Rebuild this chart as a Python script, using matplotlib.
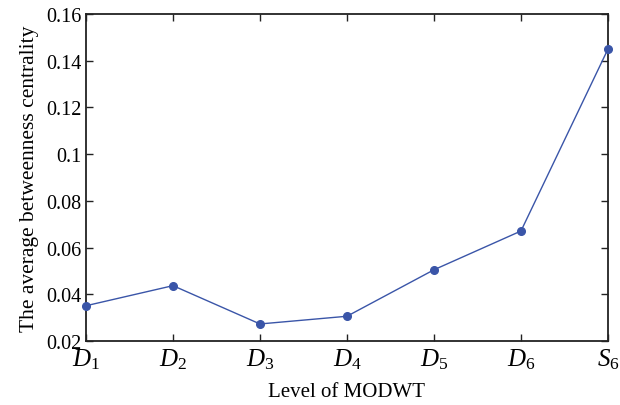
import matplotlib
matplotlib.use("Agg")
import matplotlib.pyplot as plt

levels = ["$D_1$", "$D_2$", "$D_3$", "$D_4$", "$D_5$", "$D_6$", "$S_6$"]
values = [0.0351, 0.0437, 0.0273, 0.0306, 0.0505, 0.0671, 0.1450]
yticks = [0.02, 0.04, 0.06, 0.08, 0.1, 0.12, 0.14, 0.16]
ytick_labels = ["0.02", "0.04", "0.06", "0.08", "0.1", "0.12", "0.14", "0.16"]

plt.rcParams["font.family"] = ["Liberation Serif", "DejaVu Serif"]
plt.rcParams["mathtext.fontset"] = "custom"
plt.rcParams["mathtext.rm"] = "Liberation Serif"
plt.rcParams["mathtext.it"] = "Liberation Serif:italic"

fig = plt.figure(figsize=(6.2, 4.06), dpi=100)
ax = fig.add_axes([0.1387, 0.1576, 0.8419, 0.8054])
x = list(range(1, len(levels) + 1))
ax.plot(x, values, color="#3a55a8", lw=1.0, marker="o", ms=5.5, clip_on=False, zorder=5)
ax.set_xlim(1, 7)
ax.set_ylim(0.02, 0.16)
ax.set_xticks(x)
ax.set_xticklabels(levels, fontsize=18)
ax.set_yticks(yticks)
ax.set_yticklabels(ytick_labels, fontsize=14.5)
ax.tick_params(direction="in", top=True, right=True, length=5, width=1, color="#222222")
ax.tick_params(axis="x", pad=4)
for s in ax.spines.values():
    s.set_linewidth(1.3)
    s.set_color("#222222")
ax.set_xlabel("Level of MODWT", fontsize=15, labelpad=8)
ax.set_ylabel("The average betweenness centrality", fontsize=15.5, labelpad=5)
fig.savefig("out.png", dpi=100)
